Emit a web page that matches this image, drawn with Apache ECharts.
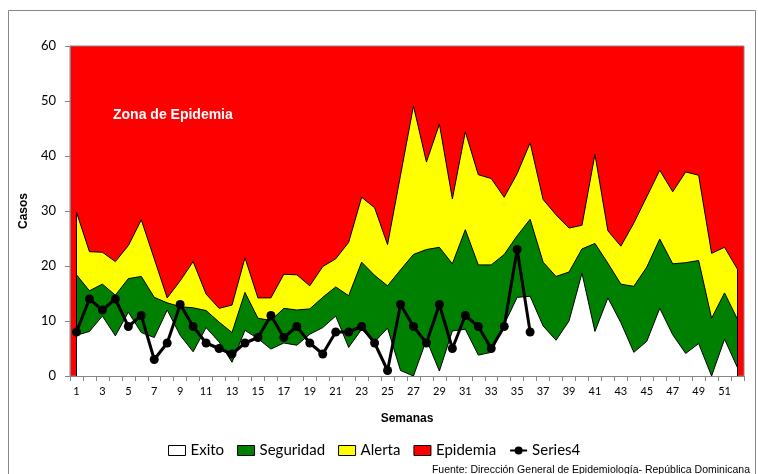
<!doctype html>
<html>
<head>
<meta charset="UTF-8">
<title>Canal endémico</title>
<script src="https://cdn.jsdelivr.net/npm/echarts@6/dist/echarts.min.js"></script>
<style>
  html, body { margin: 0; padding: 0; background: #fff; }
  #chart { width: 758px; height: 474px; }
</style>
</head>
<body>
<div id="chart"></div>
<script>
// semanas epidemiologicas
var semanas = ['1','2','3','4','5','6','7','8','9','10','11','12','13','14','15','16','17','18','19','20',
  '21','22','23','24','25','26','27','28','29','30','31','32','33','34','35','36','37','38','39','40',
  '41','42','43','44','45','46','47','48','49','50','51','52'];

// limites del canal (nivel superior de cada zona)
var exito = [7.4, 8.1, 10.9, 7.3, 11.6, 7.9, 7.0, 12.0, 7.4, 4.4, 8.8, 6.2, 2.5, 8.3, 6.8, 4.9, 6.0, 5.6, 7.6, 8.8,
  10.9, 5.2, 8.5, 6.2, 8.7, 1.0, 0, 6.6, 0.9, 8.2, 8.5, 3.8, 4.3, 9.4, 14.3, 14.5, 9.1, 6.5, 10.0, 18.7,
  8.1, 14.2, 9.7, 4.3, 6.3, 12.3, 7.5, 4.1, 5.9, 0, 6.7, 1.5];
var seguridad = [18.4, 15.5, 16.7, 14.7, 17.7, 18.1, 14.3, 13.3, 12.6, 12.4, 11.9, 9.8, 7.9, 15.2, 10.5, 10.1, 12.3, 12.0, 12.2, 14.3,
  16.2, 14.6, 20.7, 18.3, 16.4, 19.3, 22.1, 23.0, 23.4, 20.4, 26.6, 20.2, 20.2, 22.1, 25.5, 28.5, 20.7, 18.1, 18.9, 23.1,
  24.1, 20.5, 16.7, 16.3, 19.8, 24.9, 20.4, 20.6, 21.0, 10.5, 15.1, 10.3];
var alerta = [29.8, 22.6, 22.5, 20.8, 23.7, 28.4, 21.3, 14.2, 17.3, 20.8, 14.9, 12.3, 12.9, 21.5, 14.2, 14.2, 18.5, 18.4, 16.4, 19.9,
  21.3, 24.3, 32.5, 30.6, 23.9, 36.5, 49.1, 38.9, 45.8, 32.2, 44.4, 36.6, 35.9, 32.5, 36.8, 42.4, 32.1, 29.3, 26.9, 27.4,
  40.3, 26.4, 23.6, 27.8, 32.6, 37.4, 33.5, 37.1, 36.5, 22.3, 23.4, 19.4];

// casos observados (semanas 1-36)
var series4 = [8, 14, 12, 14, 9, 11, 3, 6, 13, 9, 6, 5, 4, 6, 7, 11, 7, 9, 6, 4,
  8, 8, 9, 6, 1, 13, 9, 6, 13, 5, 11, 9, 5, 9, 23, 8];

var yTicks = { min: 0, max: 60, interval: 10 };

var ultima = semanas.length - 1;

function zona(nombre, valores, color, extra) {
  var s = {
    name: nombre,
    type: 'line',
    data: valores,
    symbol: 'none',
    color: color,
    lineStyle: { color: '#000', width: 1 },
    areaStyle: { color: color, opacity: 1 },
    emphasis: { disabled: true },
    silent: true
  };
  if (extra) s.markLine = extra;
  return s;
}

// bordes verticales del canal en la primera y ultima semana
var bordes = {
  symbol: 'none',
  silent: true,
  label: { show: false },
  lineStyle: { color: '#000', width: 1, type: 'solid' },
  data: [
    [{ coord: [semanas[0], 0] }, { coord: [semanas[0], alerta[0]] }],
    [{ coord: [semanas[ultima], 0] }, { coord: [semanas[ultima], alerta[ultima]] }]
  ]
};

var chart = echarts.init(document.getElementById('chart'));
chart.setOption({
  animation: false,
  grid: {
    left: 70, right: 14, top: 46, bottom: 98,
    show: true,
    backgroundColor: '#ff0000',
    borderColor: '#868686',
    borderWidth: 1
  },
  legend: {
    left: 163, top: 438,
    itemWidth: 17, itemHeight: 10, itemGap: 13,
    textStyle: { fontFamily: 'Lato', fontSize: 15, color: '#000' },
    data: [
      { name: 'Exito', icon: 'rect', itemStyle: { color: '#fff', borderColor: '#000', borderWidth: 1 } },
      { name: 'Seguridad', icon: 'rect', itemStyle: { color: '#008000', borderColor: '#000', borderWidth: 1 } },
      { name: 'Alerta', icon: 'rect', itemStyle: { color: '#ffff00', borderColor: '#000', borderWidth: 1 } },
      { name: 'Epidemia', icon: 'rect', itemStyle: { color: '#ff0000', borderColor: '#000', borderWidth: 1 } },
      { name: 'Series4' }
    ]
  },
  xAxis: {
    type: 'category',
    data: semanas,
    boundaryGap: true,
    name: 'Semanas',
    nameLocation: 'middle',
    nameGap: 37,
    nameTextStyle: { fontFamily: 'Liberation Sans', fontWeight: 'bold', fontSize: 12, color: '#000' },
    axisLine: { lineStyle: { color: '#868686' } },
    axisTick: { show: true, interval: 0, length: 5, lineStyle: { color: '#868686' } },
    axisLabel: { interval: 1, margin: 10, fontFamily: 'Lato', fontSize: 11, color: '#000' },
    splitLine: { show: false }
  },
  yAxis: {
    type: 'value',
    min: yTicks.min, max: yTicks.max, interval: yTicks.interval,
    name: 'Casos',
    nameLocation: 'middle',
    nameGap: 39,
    nameTextStyle: { fontFamily: 'Liberation Sans', fontWeight: 'bold', fontSize: 12, color: '#000' },
    axisLine: { show: true, lineStyle: { color: '#868686' } },
    axisTick: { show: true, length: 5, lineStyle: { color: '#868686' } },
    axisLabel: { margin: 14, fontFamily: 'Lato', fontSize: 13, color: '#000' },
    splitLine: { show: false }
  },
  series: [
    zona('Alerta', alerta, '#ffff00'),
    zona('Seguridad', seguridad, '#008000'),
    zona('Exito', exito, '#ffffff', bordes),
    { name: 'Epidemia', type: 'line', data: [], color: '#ff0000' },
    {
      name: 'Series4',
      type: 'line',
      data: series4,
      color: '#000',
      symbol: 'circle',
      symbolSize: 9,
      showAllSymbol: true,
      lineStyle: { color: '#000', width: 3 },
      itemStyle: { color: '#000' },
      z: 5
    }
  ],
  graphic: [
    {
      type: 'rect',
      shape: { x: 8.5, y: 10.5, width: 747, height: 480 },
      style: { fill: 'none', stroke: '#888', lineWidth: 1 },
      silent: true
    },
    {
      type: 'text',
      left: 113, top: 108,
      style: { text: 'Zona de Epidemia', fill: '#fff', font: 'bold 14px "Liberation Sans", Arial' },
      z: 10
    },
    {
      type: 'text',
      right: 8, top: 465,
      style: { text: 'Fuente: Dirección General de Epidemiología- República Dominicana', fill: '#000', font: '10.5px "Liberation Sans", Arial' }
    }
  ]
});
</script>
</body>
</html>
